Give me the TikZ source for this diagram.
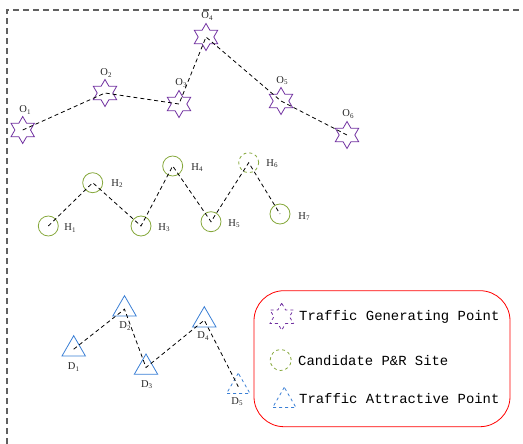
\documentclass[tikz,border=0pt]{standalone}
\usepackage{fontspec}
\setmainfont{Liberation Serif}
\newfontfamily\monof{Liberation Mono}
\usetikzlibrary{shapes.geometric}
\definecolor{starc}{HTML}{7030A0}
\definecolor{hc}{HTML}{86A83C}
\definecolor{dc}{HTML}{3A7FD5}
\definecolor{bordc}{HTML}{606060}
\tikzset{
  gen/.style={star, star points=6, star point ratio=1.73, draw=starc, line width=0.8pt, minimum size=27pt, inner sep=0pt},
  site/.style={circle, draw=hc, line width=0.8pt, minimum size=20pt, inner sep=0pt},
  attr/.style={regular polygon, regular polygon sides=3, draw=dc, line width=0.8pt, minimum size=27pt, inner sep=0pt},
  lab/.style={font=\fontsize{10.5}{12}\selectfont, inner sep=0pt, text=black!85},
  link/.style={black, line width=0.8pt, dash pattern=on 4pt off 3pt},
  legtxt/.style={font=\monof\fontsize{13.9}{16}\selectfont, anchor=west, inner sep=0pt, text=black},
}
\newcommand{\sbx}[2]{#1{\fontsize{7}{8}\selectfont\raisebox{-0.35ex}{#2}}}
\begin{document}
\begin{tikzpicture}[x=1pt,y=-1pt]
\useasboundingbox (0,0) rectangle (523,444);
\draw[bordc, line width=1.2pt, dash pattern=on 6pt off 4pt] (7,444) -- (7,10) -- (523,10);

% traffic generating points
\node[gen] (O1) at (22.7,130) {};
\node[gen] (O2) at (105,93) {};
\node[gen] (O3) at (179,104) {};
\node[gen] (O4) at (206,37) {};
\node[gen] (O5) at (281,101) {};
\node[gen] (O6) at (347,135) {};
\node[lab] (lO1) at (25,110) {\sbx{O}{1}};
\node[lab] (lO2) at (106,73) {\sbx{O}{2}};
\node[lab] (lO3) at (181,83) {\sbx{O}{3}};
\node[lab] (lO4) at (207,16) {\sbx{O}{4}};
\node[lab] (lO5) at (282,80.5) {\sbx{O}{5}};
\node[lab] (lO6) at (348,114) {\sbx{O}{6}};
\draw[link] (O1.center) -- (O2.center) -- (O3.center) -- (O4.center) -- (O5.center) -- (O6.center);

% candidate sites
\node[site] (H1) at (48.3,226) {};
\node[site] (H2) at (92.7,182.7) {};
\node[site] (H3) at (141,226) {};
\node[site] (H4) at (172.7,166) {};
\node[site] (H5) at (211,221.7) {};
\node[site, dashed] (H6) at (248.7,162.7) {};
\node[site] (H7) at (280,214) {};
\node[lab] (lH1) at (70,228) {\sbx{H}{1}};
\node[lab] (lH2) at (117,184) {\sbx{H}{2}};
\node[lab] (lH3) at (164,228) {\sbx{H}{3}};
\node[lab] (lH4) at (197,168) {\sbx{H}{4}};
\node[lab] (lH5) at (234,224) {\sbx{H}{5}};
\node[lab] (lH6) at (272,164) {\sbx{H}{6}};
\node[lab] (lH7) at (304,217) {\sbx{H}{7}};
\draw[link] (H1.center) -- (H2.center) -- (H3.center) -- (H4.center) -- (H5.center) -- (H6.center) -- (H7.center);

% traffic attractive points
\node[attr] (D1) at (73.7,349.2) {};
\node[attr] (D2) at (124.5,309.2) {};
\node[attr] (D3) at (146,367.5) {};
\node[attr] (D4) at (204.3,320.2) {};
\node[attr, dashed] (D5) at (238.3,386.7) {};
\node[lab] (lD1) at (73.5,367) {\sbx{D}{1}};
\node[lab] (lD2) at (125,326) {\sbx{D}{2}};
\node[lab] (lD3) at (146.7,385) {\sbx{D}{3}};
\node[lab] (lD4) at (203,336) {\sbx{D}{4}};
\node[lab] (lD5) at (237,402) {\sbx{D}{5}};
\draw[link] (D1.center) -- (D2.center) -- (D3.center) -- (D4.center) -- (D5.center);

% legend
\node[draw=red, line width=0.8pt, rounded corners=30pt, minimum width=256pt, minimum height=136pt, inner sep=0pt] (leg) at (382,358.7) {};
\node[gen, dashed] (kO) at (281.7,316.7) {};
\node[site, dashed, minimum size=21pt] (kH) at (280.7,360) {};
\node[attr, dashed] (kD) at (284.3,400.8) {};
\node[legtxt] (tO) at (299,316.7) {Traffic Generating Point};
\node[legtxt] (tH) at (298,360.5) {Candidate P\&R Site};
\node[legtxt] (tD) at (299,398.5) {Traffic Attractive Point};
\end{tikzpicture}
\end{document}
